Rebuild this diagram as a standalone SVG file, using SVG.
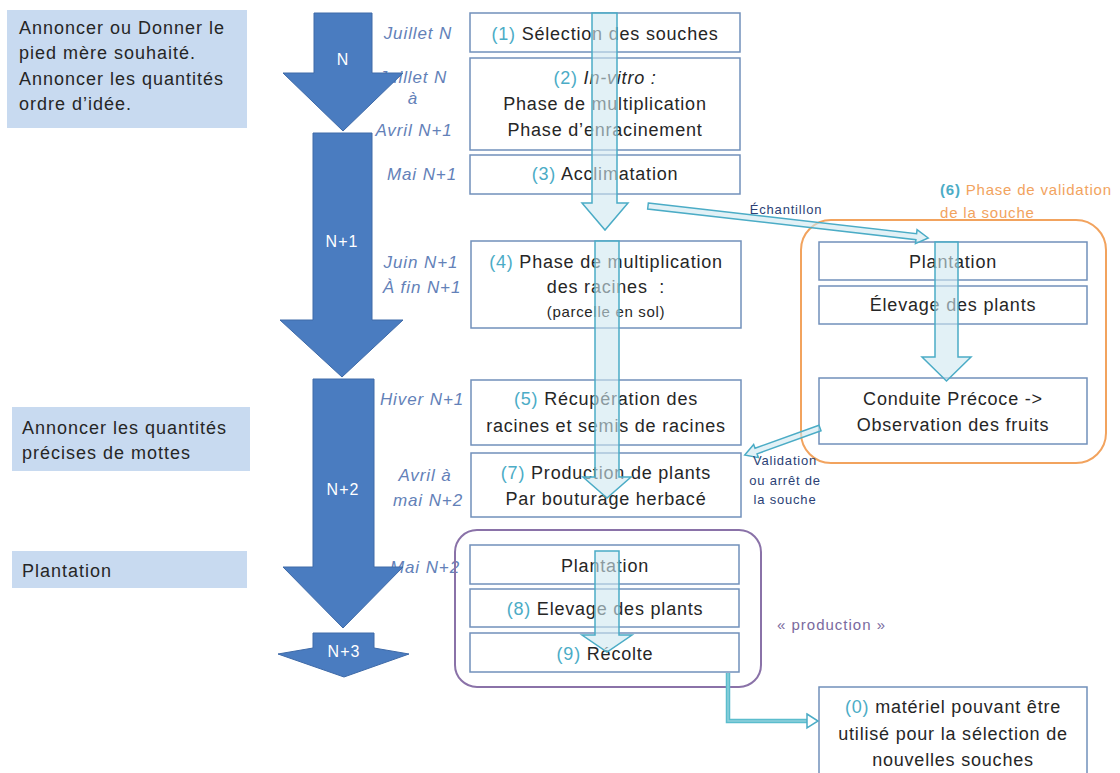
<svg xmlns="http://www.w3.org/2000/svg" width="1120" height="773" viewBox="0 0 1120 773">
<style>
.lbox{fill:#c8daf0;}
.ltxt{font-family:"Liberation Sans",Arial,sans-serif;font-size:18px;letter-spacing:1px;fill:#262626;}
.box{fill:#ffffff;stroke:#7190bb;stroke-width:1.5;}
.txt{font-family:"Liberation Sans",Arial,sans-serif;font-size:18px;letter-spacing:0.8px;fill:#262626;text-anchor:middle;}
.small{font-size:15px;letter-spacing:0.7px;}
.num{fill:#4bacc6;}
.time{font-family:"Liberation Sans",Arial,sans-serif;font-size:17px;font-style:italic;letter-spacing:0.9px;fill:#6381b8;text-anchor:middle;}
.big{fill:#4a7cc0;stroke:#3e6aa8;stroke-width:1;}
.bigtxt{font-family:"Liberation Sans",Arial,sans-serif;font-size:16px;letter-spacing:1px;fill:#ffffff;text-anchor:middle;}
.flow{fill:#cfe8f0;fill-opacity:0.6;stroke:#4bacc6;stroke-width:1.5;}
.clabel{font-family:"Liberation Sans",Arial,sans-serif;font-size:13px;letter-spacing:0.8px;fill:#2b3f75;text-anchor:middle;}
</style>
<rect width="1120" height="773" fill="#ffffff"/>

<!-- left info boxes -->
<g id="info1">
<rect class="lbox" x="7" y="10" width="240" height="118"/>
<text class="ltxt" x="19" y="34">Annoncer ou Donner le</text>
<text class="ltxt" x="19" y="59">pied mère souhaité.</text>
<text class="ltxt" x="19" y="85">Annoncer les quantités</text>
<text class="ltxt" x="19" y="110">ordre d’idée.</text>
</g>
<g id="info2">
<rect class="lbox" x="12" y="407" width="238" height="64"/>
<text class="ltxt" x="22" y="434">Annoncer les quantités</text>
<text class="ltxt" x="22" y="459">précises de mottes</text>
</g>
<g id="info3">
<rect class="lbox" x="12" y="551" width="235" height="37"/>
<text class="ltxt" x="22" y="577">Plantation</text>
</g>

<!-- timeline labels -->
<g id="time-labels">
<text class="time" x="418" y="39">Juillet N</text>
<text class="time" x="413" y="83">Juillet N</text>
<text class="time" x="413" y="104">à</text>
<text class="time" x="414" y="136">Avril N+1</text>
<text class="time" x="422" y="180">Mai N+1</text>
<text class="time" x="421" y="268">Juin N+1</text>
<text class="time" x="422" y="293">À fin N+1</text>
<text class="time" x="422" y="405">Hiver N+1</text>
<text class="time" x="425" y="481">Avril à</text>
<text class="time" x="428" y="506">mai N+2</text>
<text class="time" x="425" y="573">Mai N+2</text>
</g>

<!-- year arrows -->
<g id="year-N">
<polygon class="big" points="314,13 372,13 372,73 403,73 343,131 283,73 314,73"/>
<text class="bigtxt" x="343" y="65">N</text>
</g>
<g id="year-N1">
<polygon class="big" points="313,133 372,133 372,320 403,320 342,377 280,320 313,320"/>
<text class="bigtxt" x="342" y="247">N+1</text>
</g>
<g id="year-N2">
<polygon class="big" points="313,379 374,379 374,567 403,567 343,628 283,567 313,567"/>
<text class="bigtxt" x="343" y="495">N+2</text>
</g>
<g id="year-N3">
<polygon class="big" points="313,633 374,633 374,648 409,654 344,677 278,654 313,648"/>
<text class="bigtxt" x="344" y="657">N+3</text>
</g>

<!-- container frames -->
<g id="validation-group">
<rect x="801" y="220" width="305" height="243" rx="30" ry="30" fill="none" stroke="#f2a35e" stroke-width="2"/>
<text x="940" y="195" style="font-family:'Liberation Sans',Arial,sans-serif;font-size:15px;letter-spacing:0.8px;"><tspan fill="#4bacc6" font-weight="bold">(6)</tspan><tspan fill="#f2a35e"> Phase de validation</tspan></text>
<text x="940" y="218" style="font-family:'Liberation Sans',Arial,sans-serif;font-size:15px;letter-spacing:0.8px;" fill="#f2a35e">de la souche</text>
</g>
<g id="production-group">
<rect x="455" y="530" width="306" height="157" rx="22" ry="22" fill="none" stroke="#8a72a8" stroke-width="2"/>
<text x="777" y="630" style="font-family:'Liberation Sans',Arial,sans-serif;font-size:15px;letter-spacing:1px;" fill="#7a6a9e">« production »</text>
</g>

<!-- center column -->
<g id="step1">
<rect class="box" x="470" y="13" width="270" height="39"/>
<text class="txt" x="605" y="40"><tspan class="num">(1)</tspan> Sélection des souches</text>
</g>
<g id="step2">
<rect class="box" x="470" y="58" width="270" height="92"/>
<text class="txt" x="605" y="84"><tspan class="num">(2)</tspan> <tspan font-style="italic">In-vitro :</tspan></text>
<text class="txt" x="605" y="110">Phase de multiplication</text>
<text class="txt" x="605" y="136">Phase d’enracinement</text>
</g>
<g id="step3">
<rect class="box" x="470" y="155" width="270" height="39"/>
<text class="txt" x="605" y="180"><tspan class="num">(3)</tspan> Acclimatation</text>
</g>
<g id="step4">
<rect class="box" x="471" y="241" width="270" height="87"/>
<text class="txt" x="606" y="268"><tspan class="num">(4)</tspan> Phase de multiplication</text>
<text class="txt" x="606" y="293">des racines&#160;&#160;:</text>
<text class="txt small" x="606" y="317">(parcelle en sol)</text>
</g>
<g id="step5">
<rect class="box" x="471" y="380" width="270" height="65"/>
<text class="txt" x="606" y="405"><tspan class="num">(5)</tspan> Récupération des</text>
<text class="txt" x="606" y="432">racines et semis de racines</text>
</g>
<g id="step7">
<rect class="box" x="471" y="453" width="270" height="64"/>
<text class="txt" x="606" y="479"><tspan class="num">(7)</tspan> Production de plants</text>
<text class="txt" x="606" y="505">Par bouturage herbacé</text>
</g>
<g id="prod-plantation">
<rect class="box" x="470" y="545" width="269" height="39"/>
<text class="txt" x="605" y="572">Plantation</text>
</g>
<g id="step8">
<rect class="box" x="470" y="589" width="269" height="38"/>
<text class="txt" x="605" y="615"><tspan class="num">(8)</tspan> Elevage des plants</text>
</g>
<g id="step9">
<rect class="box" x="470" y="633" width="269" height="39"/>
<text class="txt" x="605" y="660"><tspan class="num">(9)</tspan> Récolte</text>
</g>

<!-- right column -->
<g id="val-plantation">
<rect class="box" x="819" y="242" width="268" height="38"/>
<text class="txt" x="953" y="268">Plantation</text>
</g>
<g id="val-elevage">
<rect class="box" x="819" y="286" width="268" height="38"/>
<text class="txt" x="953" y="311">Élevage des plants</text>
</g>
<g id="val-conduite">
<rect class="box" x="819" y="378" width="268" height="66"/>
<text class="txt" x="953" y="405">Conduite Précoce -&gt;</text>
<text class="txt" x="953" y="431">Observation des fruits</text>
</g>
<g id="step0">
<rect class="box" x="819" y="687" width="268" height="95"/>
<text class="txt" x="953" y="713"><tspan class="num">(0)</tspan> matériel pouvant être</text>
<text class="txt" x="953" y="740">utilisé pour la sélection de</text>
<text class="txt" x="953" y="766">nouvelles souches</text>
</g>

<!-- connectors -->
<g id="connectors">
<polygon class="flow" points="592,13 617,13 617,203 628,203 605,230 582,203 592,203"/>
<polygon class="flow" points="595,241 619,241 619,477 631,477 607,498 583,477 595,477"/>
<polygon class="flow" points="595,551 619,551 619,635 632,635 607,652 582,635 595,635"/>
<polygon class="flow" points="935,242 958,242 958,357 971,357 946.5,381 922,357 935,357"/>
<g transform="translate(648,206) rotate(6.52)">
<polygon class="flow" points="0,-3 270,-3 270,-7 282,0 270,7 270,3 0,3"/>
</g>
<g transform="translate(820,428) rotate(160.2)">
<polygon class="flow" points="0,-3 68,-3 68,-7 80,0 68,7 68,3 0,3"/>
</g>
<path d="M728,673 V721 H808" fill="none" stroke="#5bbdcd" stroke-width="4.5"/>
<path d="M728,673 V721 H808" fill="none" stroke="#8fd0dc" stroke-width="1.5"/>
<polygon points="807,714 818,721 807,728" fill="#ffffff" stroke="#4bacc6" stroke-width="1.5"/>
<text class="clabel" x="786" y="214">Échantillon</text>
<text class="clabel" x="785" y="465">Validation</text>
<text class="clabel" x="785" y="485">ou arrêt de</text>
<text class="clabel" x="785" y="504">la souche</text>
</g>
</svg>
